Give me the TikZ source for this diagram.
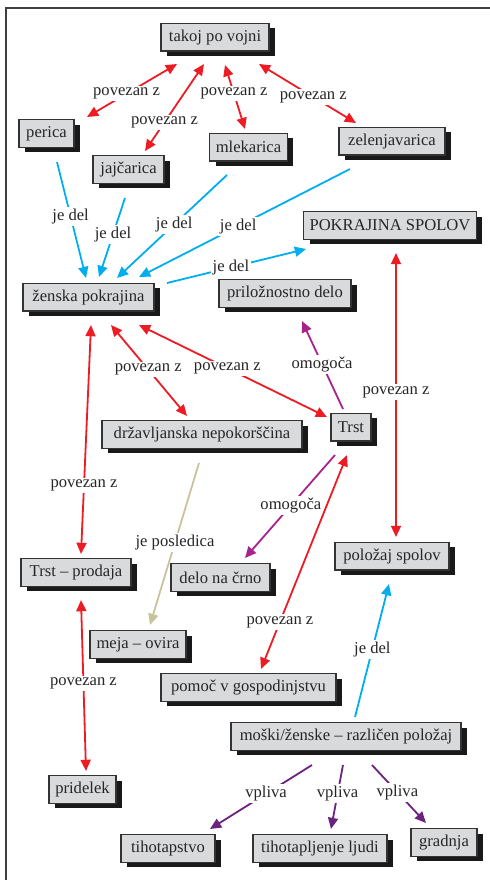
\documentclass[tikz,border=0pt]{standalone}
\usepackage{fontspec}
\setmainfont{Liberation Serif}
\usetikzlibrary{arrows.meta,shadows}

\definecolor{boxgray}{HTML}{D9DADC}
\definecolor{relred}{HTML}{ED1C24}
\definecolor{relblue}{HTML}{00AEEF}
\definecolor{relmag}{HTML}{A8228E}
\definecolor{relpurple}{HTML}{6B2380}
\definecolor{relkhaki}{HTML}{C9C39C}

\tikzset{
  box/.style={draw=black!80, line width=0.7pt, fill=boxgray,
    minimum height=13.8pt, inner xsep=3pt, inner ysep=0pt,
    font=\fontsize{8.3}{9}\selectfont, text=black!85,
    general shadow={fill=black!90, shadow xshift=3pt, shadow yshift=-2.5pt}},
  lbl/.style={fill=white, inner sep=1pt, font=\fontsize{8.3}{9}\selectfont, text=black!85},
  link/.style={line width=0.9pt},
  tip/.tip={Triangle[length=5.6pt,width=5pt]},
  both/.style={link, tip-tip},
  one/.style={link, -tip},
}

\begin{document}
\begin{tikzpicture}[x=0.5pt,y=-0.5pt]
\useasboundingbox (0,0) rectangle (490,880);

% frame: top and left rules
\draw[black!75, line width=0.75pt] (490,8) -- (6,8) -- (6,880);

% concepts
\node[box, minimum width=54pt]   (takoj)   at (215,37)    {takoj po vojni};
\node[box, minimum width=27.5pt] (perica)  at (46.5,133.5) {perica};
\node[box, minimum width=35.5pt] (jaj)     at (128.5,169.5) {jajčarica};
\node[box, minimum width=38.5pt] (mlek)    at (248.5,147) {mlekarica};
\node[box, minimum width=53pt]   (zelen)   at (392,141)   {zelenjavarica};
\node[box, minimum width=80pt]   (pokr)    at (390,225.5) {POKRAJINA SPOLOV};
\node[box, minimum width=65.5pt] (zenska)  at (88.5,297)  {ženska pokrajina};
\node[box, minimum width=66pt]   (prilo)   at (285,293.5) {priložnostno delo};
\node[box, minimum width=20pt]   (trst)    at (351,427)   {Trst};
\node[box, minimum width=100pt]  (drzav)   at (202,434.5) {državljanska nepokorščina};
\node[box, minimum width=55pt]   (trstp)   at (76,572.5)  {Trst – prodaja};
\node[box, minimum width=49.5pt] (delo)    at (220.5,577.5) {delo na črno};
\node[box, minimum width=57pt]   (polozaj) at (392,556)   {položaj spolov};
\node[box, minimum width=48pt]   (meja)    at (138,644.5) {meja – ovira};
\node[box, minimum width=87.5pt] (pomoc)   at (248.5,687.5) {pomoč v gospodinjstvu};
\node[box, minimum width=115pt]  (moski)   at (346,736.5) {moški/ženske – različen položaj};
\node[box, minimum width=33.5pt] (pridelek) at (82.5,789.5) {pridelek};
\node[box, minimum width=47pt]   (tiho)    at (168,848.5) {tihotapstvo};
\node[box, minimum width=67pt]   (tihl)    at (320,848.5) {tihotapljenje ljudi};
\node[box, minimum width=33pt]   (gradnja) at (444,842.5) {gradnja};

% povezan z (takoj po vojni)
\draw[both, relred] ([shift={(-38,27)}]takoj.center) -- node[lbl, pos=.56] (l1) {povezan z} ([shift={(40.5,-16.5)}]perica.center);
\draw[both, relred] ([shift={(-11,27)}]takoj.center) -- node[lbl, pos=.67] (l2) {povezan z} ([shift={(16.5,-18.5)}]jaj.center);
\draw[both, relred] ([shift={(10,28)}]takoj.center) -- node[lbl, pos=.45] (l3) {povezan z} ([shift={(-3.5,-18)}]mlek.center);
\draw[both, relred] ([shift={(44,27)}]takoj.center) -- node[lbl, pos=.56] (l4) {povezan z} ([shift={(-36,-18)}]zelen.center);

% je del
\draw[one, relblue] ([shift={(10.5,28.5)}]perica.center) -- node[lbl, pos=.47] (l5) {je del} ([shift={(-2.5,-19)}]zenska.center);
\draw[one, relblue] ([shift={(-3.5,28.5)}]jaj.center) -- node[lbl, pos=.46] (l6) {je del} ([shift={(10.5,-20)}]zenska.center);
\draw[one, relblue] ([shift={(-21.5,28)}]mlek.center) -- node[lbl, pos=.48] (l7) {je del} ([shift={(28.5,-19)}]zenska.center);
\draw[one, relblue] ([shift={(-42,28)}]zelen.center) -- node[lbl, pos=.53] (l8) {je del} ([shift={(50.5,-20)}]zenska.center);
\draw[one, relblue] ([shift={(78.5,-14)}]zenska.center) -- node[lbl, pos=.46] (l9) {je del} ([shift={(-84,23.5)}]pokr.center);

% povezan z (ženska pokrajina, POKRAJINA SPOLOV)
\draw[both, relred] ([shift={(22.5,28)}]zenska.center) -- node[lbl, pos=.49] (l10) {povezan z} ([shift={(-15,-18.5)}]drzav.center);
\draw[both, relred] ([shift={(50.5,28)}]zenska.center) -- node[lbl, pos=.47] (l11) {povezan z} ([shift={(-24,-10)}]trst.center);
\draw[both, relred] ([shift={(2.5,28)}]zenska.center) -- node[lbl, pos=.70] (l12) {povezan z} ([shift={(5,-18.5)}]trstp.center);
\draw[both, relred] ([shift={(6,27.5)}]pokr.center) -- node[lbl, pos=.49] (l13) {povezan z} ([shift={(4,-19)}]polozaj.center);

% omogoča
\draw[one, relmag] ([shift={(-8,-18)}]trst.center) -- node[lbl, pos=.51] (l14) {omogoča} ([shift={(17,27.5)}]prilo.center);
\draw[one, relmag] ([shift={(-16,28)}]trst.center) -- node[lbl, pos=.49] (l15) {omogoča} ([shift={(24.5,-19.5)}]delo.center);

% je posledica
\draw[one, relkhaki] ([shift={(-3,28.5)}]drzav.center) -- node[lbl, pos=.49] (l16) {je posledica} ([shift={(12,-19.5)}]meja.center);

% povezan z (Trst, Trst – prodaja)
\draw[both, relred] ([shift={(-4,28)}]trst.center) -- node[lbl, pos=.78] (l17) {povezan z} ([shift={(12.5,-18.5)}]pomoc.center);
\draw[both, relred] ([shift={(5,27.5)}]trstp.center) -- node[lbl, pos=.49] (l18) {povezan z} ([shift={(3.5,-18.5)}]pridelek.center);

% je del (položaj)
\draw[one, relblue] ([shift={(9,-19.5)}]moski.center) -- node[lbl, pos=.51] (l19) {je del} ([shift={(-3,28)}]polozaj.center);

% vpliva
\draw[one, relpurple] ([shift={(-34,28.5)}]moski.center) -- node[lbl, pos=.45] (l20) {vpliva} ([shift={(42,-19.5)}]tiho.center);
\draw[one, relpurple] ([shift={(-3,28.5)}]moski.center) -- node[lbl, pos=.45] (l21) {vpliva} ([shift={(11,-19.5)}]tihl.center);
\draw[one, relpurple] ([shift={(26,28.5)}]moski.center) -- node[lbl, pos=.47] (l22) {vpliva} ([shift={(-18,-19.5)}]gradnja.center);
\end{tikzpicture}
\end{document}
